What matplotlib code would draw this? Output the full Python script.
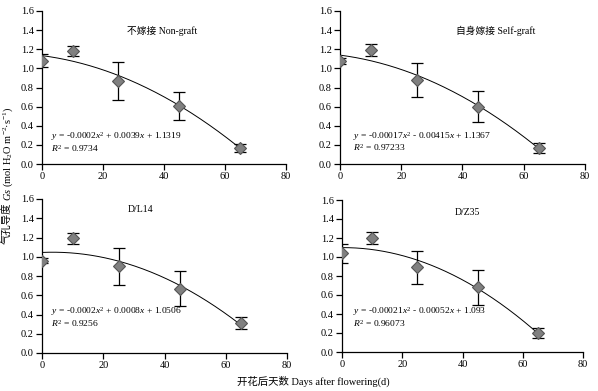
import numpy as np
import matplotlib
matplotlib.use("Agg")
import matplotlib.pyplot as plt

plt.rcParams['font.family'] = ['Liberation Serif', 'Noto Sans CJK SC']
plt.rcParams['mathtext.fontset'] = 'custom'
plt.rcParams['mathtext.rm'] = 'Liberation Serif'
plt.rcParams['mathtext.it'] = 'Liberation Serif:italic'

days = [0, 10, 25, 45, 65]

titles = ['不嫁接 Non-graft', '自身嫁接 Self-graft', 'D/L14', 'D/Z35']
gs_mean = [
    [1.08, 1.18, 0.87, 0.61, 0.17],
    [1.08, 1.19, 0.88, 0.60, 0.17],
    [0.96, 1.19, 0.90, 0.67, 0.31],
    [1.04, 1.20, 0.89, 0.68, 0.20],
]
gs_err = [
    [0.07, 0.055, 0.20, 0.145, 0.04],
    [0.03, 0.06, 0.175, 0.165, 0.05],
    [0.03, 0.06, 0.19, 0.18, 0.06],
    [0.10, 0.065, 0.17, 0.18, 0.05],
]
equations = [
    '$y$ = -0.0002$x^2$ + 0.0039$x$ + 1.1319',
    '$y$ = -0.00017$x^2$ - 0.00415$x$ + 1.1367',
    '$y$ = -0.0002$x^2$ + 0.0008$x$ + 1.0506',
    '$y$ = -0.00021$x^2$ - 0.00052$x$ + 1.093',
]
r2_text = ['$R^2$ = 0.9734', '$R^2$ = 0.97233', '$R^2$ = 0.9256', '$R^2$ = 0.96073']

W, H = 598, 391
# axes boxes in pixels: left, right, top, bottom
boxes = [(42, 286, 11, 164), (340, 585, 11, 164), (42, 287, 199, 353), (342, 583, 200, 352)]
title_pos = [(39.4, 1.39), (51, 1.39), (32, 1.49), (41.5, 1.47)]
eq_pos = [(2.9, 0.285, 0.165), (4.2, 0.285, 0.17), (2.9, 0.435, 0.305), (3.6, 0.425, 0.295)]

fig = plt.figure(figsize=(W / 100, H / 100), dpi=100)

for i in range(4):
    l, r, t, b = boxes[i]
    ax = fig.add_axes([l / W, (H - b) / H, (r - l) / W, (b - t) / H])
    x = np.array(days)
    y = np.array(gs_mean[i])
    # quadratic trendline fitted to the points
    coef = np.polyfit(x, y, 2)
    xs = np.linspace(0, 65, 200)
    ax.plot(xs, np.polyval(coef, xs), color='black', lw=0.7, zorder=2)
    ax.errorbar(x, y, yerr=gs_err[i], fmt='none', ecolor='black', elinewidth=0.9,
                capsize=4.5, capthick=0.9, zorder=3)
    ax.plot(x, y, 'D', ms=6.5, mfc='#808080', mec='#555555', mew=0.8, zorder=4)

    ax.set_xlim(0, 80)
    ax.set_ylim(0, 1.6)
    ax.set_xticks([0, 20, 40, 60, 80])
    ax.set_yticks(np.arange(0, 1.61, 0.2))
    ax.set_yticklabels(['%.1f' % v for v in np.arange(0, 1.61, 0.2)])
    for s in ['top', 'right']:
        ax.spines[s].set_visible(False)
    for s in ['left', 'bottom']:
        ax.spines[s].set_linewidth(0.9)
    ax.tick_params(direction='out', length=4, width=0.9, labelsize=7.5, pad=2)
    ax.set_facecolor('none')

    tx, ty = title_pos[i]
    ax.text(tx, ty, titles[i], ha='center', va='center', fontsize=7)
    ex, ey1, ey2 = eq_pos[i]
    ax.text(ex, ey1, equations[i], ha='left', va='center', fontsize=6.8)
    ax.text(ex, ey2, r2_text[i], ha='left', va='center', fontsize=6.8)

# y label in two pieces so the Chinese glyphs keep their fallback font;
# anchored on a shared baseline
fig.text(11 / W, 1 - 244 / H, '气孔导度', rotation=90, rotation_mode='anchor',
         ha='left', va='baseline', fontsize=7.5)
fig.text(11 / W, 1 - 201 / H, '$Gs$ (mol H$_2$O m$^{-2}$·s$^{-1}$)',
         rotation=90, rotation_mode='anchor', ha='left', va='baseline', fontsize=7.5)
fig.text(313 / W, 1 - 381 / H, '开花后天数 Days after flowering(d)',
         ha='center', va='center', fontsize=7.5)

fig.savefig('out.png', dpi=100)
